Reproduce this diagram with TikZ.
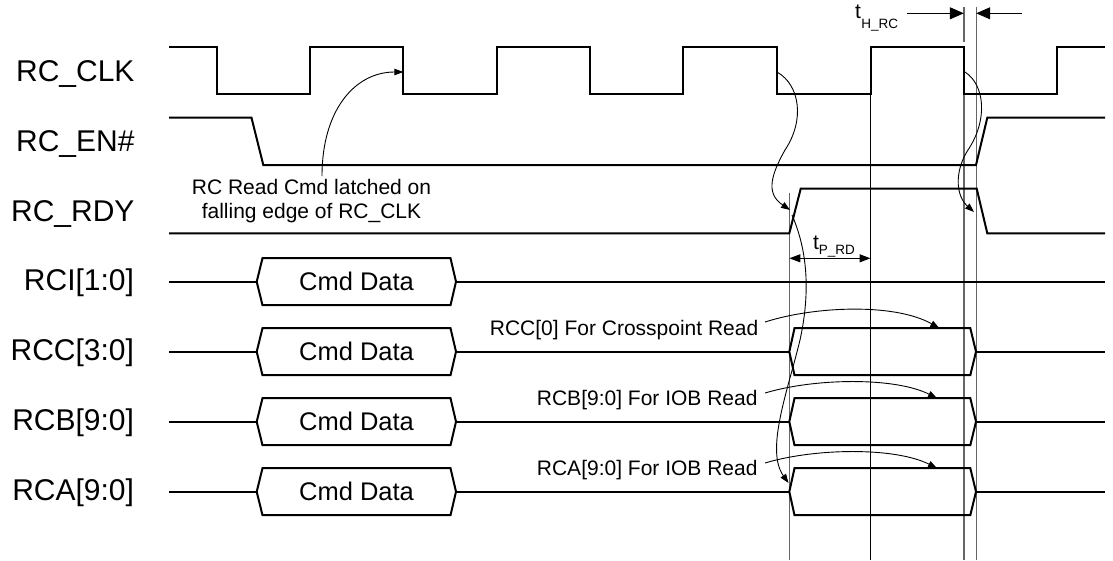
\documentclass[tikz,border=0pt]{standalone}
\usepackage{fontspec}
\setmainfont{Liberation Sans}
\usetikzlibrary{arrows.meta}
\begin{document}
\begin{tikzpicture}[x=1pt,y=-1pt,
  every node/.style={inner sep=0pt, outer sep=0pt},
  sig/.style={line width=2pt, line join=miter},
  thinline/.style={line width=1pt},
  guide/.style={line width=1.4pt, draw=black!60},
  note/.style={line width=0.9pt, -{Triangle[length=9pt,width=6.5pt]}},
  dimtip/.style={line width=1pt, {Triangle[length=11pt,width=8pt]}-{Triangle[length=11pt,width=8pt]}},
  htip/.style={line width=1pt, -{Triangle[length=14pt,width=12pt]}},
  lbl/.style={font=\fontsize{30}{34}\selectfont, anchor=base east},
  ann/.style={font=\fontsize{21}{25}\selectfont},
  cmd/.style={font=\fontsize{25.5}{30}\selectfont, anchor=base},
]
\useasboundingbox (0,0) rectangle (1113,560);

% guide lines
\draw[guide] (789.3,193) -- (789.3,560);
\draw[thinline] (870.5,94) -- (870.5,560);
\draw[guide] (963.8,7) -- (963.8,42);
\draw[guide] (963.8,94) -- (963.8,560);
\draw[guide] (976.2,7) -- (976.2,560);

% signal names
\node[lbl] (lclk) at (134.5,81.7) {RC\_CLK};
\node[lbl] (len)  at (134.5,151.7) {RC\_EN\#};
\node[lbl] (lrdy) at (134.5,221) {RC\_RDY};
\node[lbl] (lrci) at (134,290.7) {RCI[1:0]};
\node[lbl] (lrcc) at (134,360.7) {RCC[3:0]};
\node[lbl] (lrcb) at (134,430.7) {RCB[9:0]};
\node[lbl] (lrca) at (134,500.7) {RCA[9:0]};

% RC_CLK
\draw[sig] (169,47) -| (216.7,94) -| (310,47) -| (403.3,94) -| (496.7,47)
  -| (590,94) -| (683.3,47) -| (776.7,94) -| (870.5,47) -| (963.8,94)
  -| (1056.7,47) -- (1105,47);
% RC_EN#
\draw[sig] (169,117.7) -- (251.5,117.7) -- (263.3,165) -- (976,165)
  -- (987.3,117.7) -- (1105,117.7);
% RC_RDY
\draw[sig] (169,233.3) -- (789.3,233.3) -- (800.7,188.7) -- (976.7,188.7)
  -- (987.3,233.3) -- (1105,233.3);

% buses
\foreach \y/\nm in {281.7/rci,351.7/rcc,421.7/rcb,491.7/rca}{
  \draw[sig] (169,\y) -- (256.7,\y);
  \draw[sig] (256.7,\y) -- (262.5,\y-23.5) -- (450.5,\y-23.5) -- (456,\y)
     -- (450.5,\y+23.5) -- (262.5,\y+23.5) -- cycle;
  \node[cmd] (cmd\nm) at (356.5,\y+8.3) {Cmd Data};
}
\draw[sig] (456,281.7) -- (1105,281.7);
\foreach \y in {351.7,421.7,491.7}{
  \draw[sig] (456,\y) -- (789.3,\y);
  \draw[sig] (789.3,\y) -- (794.5,\y-23.5) -- (970.3,\y-23.5) -- (976,\y)
     -- (970.3,\y+23.5) -- (794.5,\y+23.5) -- cycle;
  \draw[sig] (976,\y) -- (1105,\y);
}

% timing dimensions
\coordinate (pa) at (789.3,258.3);
\coordinate (pb) at (870.5,258.3);
\draw[dimtip] (pa) -- (pb);
\node[anchor=base west] (tprd) at (813,249)
  {{\fontsize{21}{21}\selectfont t}\raisebox{-5pt}{\fontsize{13.5}{13.5}\selectfont P\_RD}};

\coordinate (ha) at (906.7,13.3);
\coordinate (hb) at (963.8,13.3);
\coordinate (hc) at (1022,13.3);
\coordinate (hd) at (976.2,13.3);
\draw[htip] (ha) -- (hb);
\draw[htip] (hc) -- (hd);
\node[anchor=base west] (thrc) at (855,18.3)
  {{\fontsize{21}{21}\selectfont t}\kern0.5pt\raisebox{-10pt}{\fontsize{13.5}{13.5}\selectfont H\_RC}};

% latch note
\node[ann, anchor=base] (latchA) at (311.5,194) {RC Read Cmd latched on};
\node[ann, anchor=base] (latchB) at (311.5,218.3) {falling edge of RC\_CLK};
\coordinate (l0) at (322,176);
\coordinate (l1) at (403.3,72);
\draw[note] (l0) .. controls (322,110) and (355,72) .. (l1);

% cause-effect curves
\coordinate (c0) at (777,72);
\coordinate (c1) at (785,150);
\coordinate (c2) at (790,210);
\draw[note] (c0) .. controls (800,85) and (805,120) .. (c1)
  .. controls (768,180) and (768,195) .. (c2);
\coordinate (d0) at (792,215);
\coordinate (d1) at (800,340);
\coordinate (d2) at (788.5,483);
\draw[note] (d0) .. controls (805,245) and (812,285) .. (d1)
  .. controls (788,390) and (765,450) .. (d2);
\coordinate (e0) at (965,72);
\coordinate (e1) at (968,150);
\coordinate (e2) at (974,212);
\draw[note] (e0) .. controls (985,85) and (988,120) .. (e1)
  .. controls (955,170) and (955,195) .. (e2);

% bus notes
\node[ann, anchor=base east] (ncc) at (758.3,335) {RCC[0] For Crosspoint Read};
\node[ann, anchor=base east] (ncb) at (757.5,405) {RCB[9:0] For IOB Read};
\node[ann, anchor=base east] (nca) at (757.5,475) {RCA[9:0] For IOB Read};
\coordinate (f0) at (765,322);
\coordinate (f1) at (939.3,328.2);
\draw[note] (f0) .. controls (815,306) and (895,303) .. (f1);
\coordinate (g0) at (765,393);
\coordinate (g1) at (937,398.2);
\draw[note] (g0) .. controls (815,378) and (895,377) .. (g1);
\coordinate (h0) at (765,463);
\coordinate (h1) at (937,468.2);
\draw[note] (h0) .. controls (815,448) and (895,447) .. (h1);
\end{tikzpicture}
\end{document}
